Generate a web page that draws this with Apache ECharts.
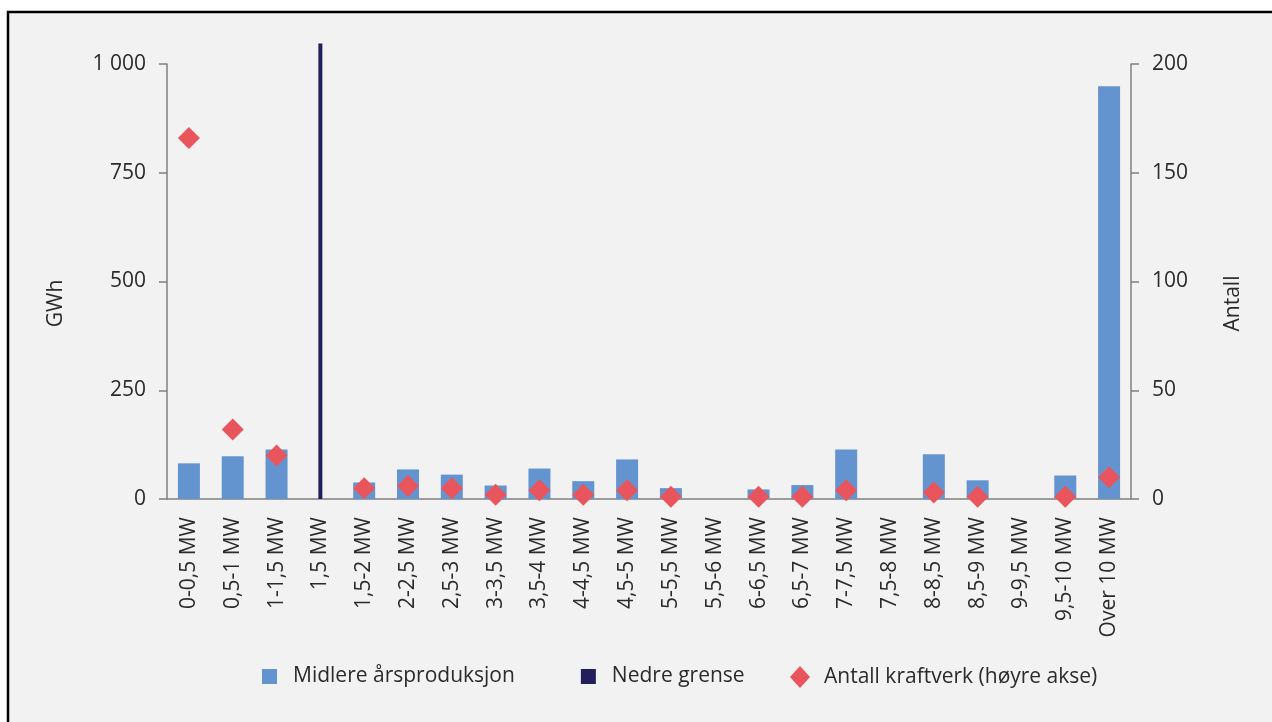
<!DOCTYPE html>
<html>
<head>
<meta charset="utf-8">
<script src="https://cdn.jsdelivr.net/npm/echarts@6/dist/echarts.min.js"></script>
<style>
  html, body { margin: 0; padding: 0; background: #ffffff; }
  #chart { width: 1272px; height: 722px; }
</style>
</head>
<body>
<div id="chart"></div>
<script>
// Size classes of small hydro plants
const categories = [
  '0-0,5 MW', '0,5-1 MW', '1-1,5 MW', '1,5 MW', '1,5-2 MW', '2-2,5 MW',
  '2,5-3 MW', '3-3,5 MW', '3,5-4 MW', '4-4,5 MW', '4,5-5 MW', '5-5,5 MW',
  '5,5-6 MW', '6-6,5 MW', '6,5-7 MW', '7-7,5 MW', '7,5-8 MW', '8-8,5 MW',
  '8,5-9 MW', '9-9,5 MW', '9,5-10 MW', 'Over 10 MW'
];

// Mean annual production, GWh (left axis)
const production = [82, 98, 114, null, 38, 68, 56, 31, 70, 41, 91, 25,
                    null, 22, 32, 114, null, 103, 43, null, 54, 949];

// Lower limit marker at 1,5 MW (drawn as a thin bar reaching above the axis top)
const lowerLimit = [null, null, null, 1047, null, null, null, null, null, null, null,
                    null, null, null, null, null, null, null, null, null, null, null];

// Number of plants (right axis)
const plantCount = [166, 32, 20, null, 5, 6, 5, 2, 4, 2, 4, 1,
                    null, 1, 1, 4, null, 3, 1, null, 1, 10];

// Tick settings
const gwhMax = 1000, gwhStep = 250;
const countMax = 200, countStep = 50;

const names = {
  bars: 'Midlere årsproduksjon',
  limit: 'Nedre grense',
  count: 'Antall kraftverk (høyre akse)'
};

const FONT = '"Open Sans", "Noto Sans", sans-serif';
const TEXT = '#2b2b2b';
const AXIS = '#808080';

const chart = echarts.init(document.getElementById('chart'), null, { renderer: 'canvas' });

const fmtThousands = v => String(v).replace(/\B(?=(\d{3})+(?!\d))/g, ' ');

chart.setOption({
  backgroundColor: '#ffffff',
  textStyle: { fontFamily: FONT },
  animation: false,
  graphic: [{
    type: 'rect',
    z: -10,
    silent: true,
    shape: { x: 8, y: 12, width: 1300, height: 800 },
    style: { fill: '#f2f2f2', stroke: '#000000', lineWidth: 2.5 }
  }],
  grid: { left: 167, right: 141, top: 64, bottom: 223, containLabel: false },
  legend: [{
    data: [
      { name: names.bars, icon: 'rect' },
      { name: names.limit, icon: 'rect' }
    ],
    left: 262, top: 666, padding: 0,
    itemWidth: 15, itemHeight: 15, itemGap: 66,
    textStyle: { fontFamily: FONT, fontSize: 21, color: TEXT, padding: [0, 0, 0, 11] }
  }, {
    data: [{ name: names.count, icon: 'diamond' }],
    left: 790, top: 666, padding: 0,
    itemWidth: 20, itemHeight: 22,
    textStyle: { fontFamily: FONT, fontSize: 21, color: TEXT, padding: [0, 0, 0, 9] }
  }],
  xAxis: [{
    type: 'category',
    data: categories,
    axisLine: { lineStyle: { color: AXIS, width: 1.5 } },
    axisTick: { show: false },
    axisLabel: { rotate: 90, interval: 0, fontSize: 21, color: TEXT, fontFamily: FONT, margin: 18 }
  }, {
    type: 'category',
    data: categories,
    show: false
  }],
  yAxis: [{
    type: 'value',
    min: 0, max: gwhMax, interval: gwhStep,
    name: 'GWh',
    nameLocation: 'middle',
    nameGap: 100,
    nameTextStyle: { fontSize: 21, color: TEXT, fontFamily: FONT, padding: [0, 44, 0, 0] },
    splitLine: { show: false },
    axisLine: { show: true, lineStyle: { color: AXIS, width: 1.5 } },
    axisTick: { show: true, length: 8, lineStyle: { color: AXIS, width: 1.5 } },
    axisLabel: { fontSize: 21, color: TEXT, fontFamily: FONT, margin: 21, formatter: fmtThousands }
  }, {
    type: 'value',
    min: 0, max: countMax, interval: countStep,
    name: 'Antall',
    nameLocation: 'middle',
    nameGap: 92,
    nameRotate: 90,
    nameTextStyle: { fontSize: 21, color: TEXT, fontFamily: FONT, padding: [0, 44, 0, 0] },
    splitLine: { show: false },
    axisLine: { show: true, lineStyle: { color: AXIS, width: 1.5 } },
    axisTick: { show: true, length: 8, lineStyle: { color: AXIS, width: 1.5 } },
    axisLabel: { fontSize: 21, color: TEXT, fontFamily: FONT, margin: 21 }
  }],
  series: [{
    name: names.bars,
    type: 'bar',
    xAxisIndex: 0,
    yAxisIndex: 0,
    data: production,
    barWidth: 22,
    itemStyle: { color: '#6494cf' },
    z: 2
  }, {
    name: names.limit,
    type: 'bar',
    xAxisIndex: 1,
    yAxisIndex: 0,
    data: lowerLimit,
    barWidth: 4,
    clip: false,
    itemStyle: { color: '#201e5c' },
    z: 3
  }, {
    name: names.count,
    type: 'scatter',
    xAxisIndex: 0,
    yAxisIndex: 1,
    data: plantCount,
    symbol: 'diamond',
    symbolSize: 22,
    itemStyle: { color: '#e9555d', opacity: 1 },
    z: 4
  }]
});
</script>
</body>
</html>
